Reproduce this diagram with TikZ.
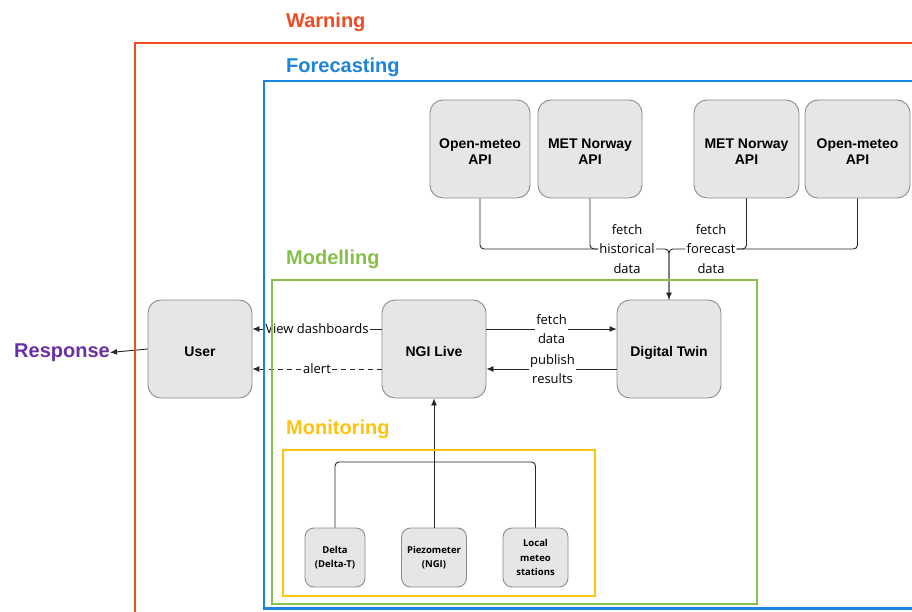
\documentclass[tikz,border=0pt]{standalone}
\usepackage{fontspec}
\setmainfont{Liberation Sans}
\newfontfamily\labelfont{Open Sans}
\usetikzlibrary{arrows.meta}
\definecolor{warncol}{HTML}{F04B23}
\definecolor{forecol}{HTML}{1A84E0}
\definecolor{modcol}{HTML}{86C04A}
\definecolor{moncol}{HTML}{FFC20E}
\definecolor{respcol}{HTML}{6B2FA5}
\definecolor{boxfill}{HTML}{E6E6E6}
\definecolor{boxline}{HTML}{8C8C8C}
\tikzset{
  box/.style={draw=boxline, fill=boxfill, line width=0.9pt, rounded corners=13pt,
    align=center, minimum width=104pt, minimum height=98pt, inner sep=2pt,
    text height=15pt, text depth=0pt,
    font=\bfseries\fontsize{14}{16}\selectfont},
  apibox/.style={box, text height=31pt},
  sensor/.style={draw=boxline, fill=boxfill, line width=0.9pt, rounded corners=9pt,
    align=center, minimum width=63pt, minimum height=59pt, inner sep=1pt,
    font=\labelfont\bfseries\fontsize{9.5}{14.5}\selectfont},
  lbl/.style={fill=white, inner sep=1pt, align=center,
    font=\labelfont\fontsize{13}{19.5}\selectfont},
  title/.style={anchor=west, inner sep=0pt, font=\bfseries\fontsize{20}{24}\selectfont},
  conn/.style={draw=black!85, line width=0.9pt},
  arr/.style={conn, -{Latex[length=7pt,width=6pt]}},
  frame/.style={line width=2.6pt}
}
\begin{document}
\begin{tikzpicture}[x=1pt,y=-1pt]
  \clip (0,0) rectangle (912,612);
  \fill[white] (0,0) rectangle (912,612);
  % titles
  \node[title, text=warncol] (warning) at (286,22.5) {Warning};
  \node[title, text=forecol] (forecasting) at (286,67.5) {Forecasting};
  \node[title, text=modcol] (modelling) at (286,259.5) {Modelling};
  \node[title, text=moncol] (monitoring) at (286,429.5) {Monitoring};
  \node[title, text=respcol, anchor=east] (response) at (110,352.5) {Response};
  % weather sources
  \node[apibox, minimum width=100pt] (om1) at (480,149) {Open-meteo\\API};
  \node[apibox] (met1) at (590,149) {MET Norway\\API};
  \node[apibox, minimum width=105pt] (met2) at (746.5,149) {MET Norway\\API};
  \node[apibox, minimum width=105pt] (om2) at (857.5,149) {Open-meteo\\API};
  % main nodes
  \node[box] (user) at (200,349) {User};
  \node[box] (ngi) at (434,349) {NGI Live};
  \node[box] (dt) at (669,349) {Digital Twin};
  % sensors
  \node[sensor, minimum width=60pt] (delta) at (335,557.5) {Delta\\(Delta-T)};
  \node[sensor, minimum width=65pt] (piezo) at (434,557.5) {Piezometer\\(NGI)};
  \node[sensor, minimum width=65pt] (local) at (535.5,557.5) {Local\\meteo\\stations};
  % edge labels
  \node[lbl] (hist) at (627,249) {fetch\\historical\\data};
  \node[lbl] (fore) at (711,249) {fetch\\forecast\\data};
  \coordinate (hub) at (434,462);
  % connectors
  \begin{scope}[rounded corners=4pt]
    \draw[conn] (om1.south) |- (hist.west);
    \draw[conn] (met1.south) |- (hist.west);
    \draw[conn] (met2.south) |- (fore.east);
    \draw[conn] (om2.south) |- (fore.east);
    \draw[conn] (hist.east) -| (dt.north);
    \draw[arr] (fore.west) -| (dt.north);
    \draw[conn] (delta.north) |- (hub);
    \draw[conn] (local.north) |- (hub);
  \end{scope}
  \draw[arr] (piezo.north) -- (ngi.south);
  \draw[arr] ([yshift=20pt]ngi.east) -- node[lbl] {fetch\\data} ([yshift=20pt]dt.west);
  \draw[arr] ([yshift=-20pt]dt.west) -- node[lbl, xshift=1pt] {publish\\results} ([yshift=-20pt]ngi.east);
  \draw[arr] ([yshift=20pt]ngi.west) -- node[lbl] {View dashboards} ([yshift=20pt]user.east);
  \draw[arr, dash pattern=on 5pt off 4pt] ([yshift=-20pt]ngi.west) -- node[lbl] {alert} ([yshift=-20pt]user.east);
  \draw[arr] (user.west) -- (response.east);
  % frames
  \draw[frame, warncol] (135,43) rectangle (930,630);
  \draw[frame, forecol] (264,81) rectangle (930,608.5);
  \draw[frame, modcol] (272,280) rectangle (757,604);
  \draw[frame, moncol] (283,450) rectangle (595,596);
\end{tikzpicture}
\end{document}
